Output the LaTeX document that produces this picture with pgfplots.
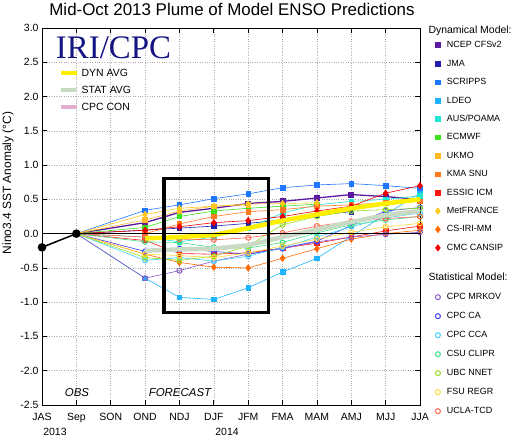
\documentclass[border=0pt]{standalone}
\usepackage{pgfplots}
\pgfplotsset{compat=1.18}
\usepackage{fontspec}
\setmainfont{Liberation Sans}
\newfontfamily\seriffont{Liberation Serif}

\definecolor{cNCEP}{RGB}{90,25,160}
\definecolor{cJMA}{RGB}{30,30,175}
\definecolor{cSCR}{RGB}{30,120,255}
\definecolor{cLDEO}{RGB}{30,180,255}
\definecolor{cAUS}{RGB}{30,230,210}
\definecolor{cECM}{RGB}{60,225,30}
\definecolor{cUKMO}{RGB}{255,185,40}
\definecolor{cKMA}{RGB}{255,120,30}
\definecolor{cESS}{RGB}{255,20,20}
\definecolor{cMET}{RGB}{255,200,30}
\definecolor{cCSIRI}{RGB}{255,105,0}
\definecolor{cCMC}{RGB}{240,0,0}
\definecolor{cMRK}{RGB}{140,90,200}
\definecolor{cCA}{RGB}{60,60,255}
\definecolor{cCCA}{RGB}{60,210,255}
\definecolor{cCSU}{RGB}{60,225,130}
\definecolor{cUBC}{RGB}{150,225,30}
\definecolor{cFSU}{RGB}{255,215,60}
\definecolor{cUCLA}{RGB}{255,100,70}
\definecolor{cDYN}{RGB}{255,240,0}
\definecolor{cSTAT}{RGB}{200,218,195}
\definecolor{cCON}{RGB}{225,175,205}
\definecolor{cIRI}{RGB}{20,20,130}

\pgfplotsset{
  base/.style={width=378bp,height=377bp,scale only axis,at={(42bp,32bp)},anchor=south west,
    xmin=0,xmax=11,ymin=-2.5,ymax=3,clip mode=individual},
  marklegA/.style={legend image code/.code={\path[draw=none,fill=none] (0bp,-9.5bp) rectangle (12bp,9.5bp);\draw[##1,mark repeat=2,mark phase=2,only marks] plot coordinates {(0bp,0bp) (5bp,0bp) (10bp,0bp)};}},
  marklegB/.style={legend image code/.code={\path[draw=none,fill=none] (0bp,-9.5bp) rectangle (12bp,9.5bp);\draw[##1,mark repeat=2,mark phase=2,only marks] plot coordinates {(0bp,0bp) (5bp,0bp) (10bp,0bp)};}},
  sq/.style={color=#1,line width=0.6bp,mark=square*,mark size=2.3bp,mark phase=2,mark options={solid,fill=#1}},
  dm/.style={color=#1,line width=0.6bp,mark=diamond*,mark size=3.2bp,mark phase=2,mark options={solid,fill=#1}},
  ci/.style={color=#1,line width=0.6bp,mark=o,mark size=2.5bp,mark phase=2,mark options={solid,line width=1bp}},
}

\begin{document}
\begin{tikzpicture}[x=1bp,y=1bp]
\useasboundingbox (0,0) rectangle (515,437);

% ---------- main axis: frame, grid, dynamical models ----------
\begin{axis}[base, name=main, marklegA,
  axis line style={line width=0.8bp},
  tick align=inside, xtick pos=both, ytick pos=both,
  major tick length=5bp,
  tick style={black,line width=0.7bp},
  xtick={0,1,2,3,4,5,6,7,8,9,10,11},
  xticklabels={JAS,Sep,SON,OND,NDJ,DJF,JFM,FMA,MAM,AMJ,MJJ,JJA},
  ytick={-2.5,-2,-1.5,-1,-0.5,0,0.5,1,1.5,2,2.5,3},
  /pgf/number format/assume math mode=true,
  yticklabel style={/pgf/number format/fixed,/pgf/number format/fixed zerofill,/pgf/number format/precision=1},
  ticklabel style={font=\fontsize{10.5}{12}\selectfont},
  xticklabel style={yshift=-4.5bp},
  grid=major, major grid style={gray!65,dotted,line width=0.6bp},
  legend cell align=left,
  legend style={at={(1,1)},anchor=north west,xshift=12.7bp,yshift=-7.75bp,draw=none,fill=none,
    inner sep=0pt,row sep=-0.6bp,font=\fontsize{9}{10}\selectfont},
]
\addplot[sq=cNCEP,line width=1.3bp] coordinates {(1,0)(3,0.16)(4,0.31)(5,0.37)(6,0.44)(7,0.47)(8,0.52)(9,0.57)(10,0.54)(11,0.50)};
\addlegendentry{NCEP CFSv2}
\addplot[sq=cJMA] coordinates {(1,0)(3,0.05)(4,0.08)(5,0.11)(6,0.15)(7,0.20)(8,0.27)(9,0.32)};
\addlegendentry{JMA}
\addplot[sq=cSCR] coordinates {(1,0)(3,0.34)(4,0.42)(5,0.51)(6,0.58)(7,0.67)(8,0.71)(9,0.73)(10,0.70)(11,0.66)};
\addlegendentry{SCRIPPS}
\addplot[sq=cLDEO] coordinates {(1,0)(3,-0.65)(4,-0.93)(5,-0.96)(6,-0.79)(7,-0.56)(8,-0.36)(9,-0.04)(10,0.28)(11,0.59)};
\addlegendentry{LDEO}
\addplot[sq=cAUS] coordinates {(1,0)(3,-0.05)(4,-0.12)(5,-0.05)(6,0.08)(7,0.30)(8,0.42)(9,0.47)(10,0.50)(11,0.55)};
\addlegendentry{AUS/POAMA}
\addplot[sq=cECM] coordinates {(1,0)(3,0.09)(4,0.25)(5,0.33)(6,0.37)(7,0.40)(8,0.43)};
\addlegendentry{ECMWF}
\addplot[sq=cUKMO] coordinates {(1,0)(3,0.20)(4,0.33)(5,0.40)(6,0.42)};
\addlegendentry{UKMO}
\addplot[sq=cKMA] coordinates {(1,0)(3,0.0)(4,0.14)(5,0.25)(6,0.32)(7,0.35)(8,0.40)(9,0.42)(10,0.45)(11,0.47)};
\addlegendentry{KMA SNU}
\addplot[sq=cESS] coordinates {(1,0)(3,-0.10)(4,-0.29)(5,-0.30)(6,-0.28)(7,-0.21)(8,-0.14)(9,-0.05)(10,0.04)(11,0.11)};
\addlegendentry{ESSIC ICM}
\addplot[dm=cMET] coordinates {(1,0)(3,0.28)(4,0.37)(5,0.40)(6,0.43)(7,0.44)(8,0.45)};
\addlegendentry{MetFRANCE}
\addplot[dm=cCSIRI] coordinates {(1,0)(3,-0.30)(4,-0.42)(5,-0.49)(6,-0.50)(7,-0.36)(8,-0.22)(9,-0.08)(10,0.0)(11,0.05)};
\addlegendentry{CS-IRI-MM}
\addplot[dm=cCMC] coordinates {(1,0)(3,0.05)(4,0.10)(5,0.16)(6,0.19)(7,0.25)(8,0.33)(9,0.40)(10,0.59)(11,0.70)};
\addlegendentry{CMC CANSIP}
\end{axis}

% ---------- statistical models ----------
\begin{axis}[base, hide axis, marklegB,
  legend cell align=left,
  legend style={at={(1,1)},anchor=north west,xshift=12.7bp,yshift=-259.5bp,draw=none,fill=none,
    inner sep=0pt,row sep=0pt,font=\fontsize{9}{10}\selectfont},
]
\addplot[ci=cMRK] coordinates {(1,0)(3,-0.65)(4,-0.54)(5,-0.40)(6,-0.30)(7,-0.22)(8,-0.12)(9,-0.05)(10,-0.01)(11,0.02)};
\addlegendentry{CPC MRKOV}
\addplot[ci=cCA] coordinates {(1,0)(3,-0.26)(4,-0.22)(5,-0.26)(6,-0.30)(7,-0.21)(8,-0.11)(9,0.12)(10,0.33)(11,0.38)};
\addlegendentry{CPC CA}
\addplot[ci=cCCA] coordinates {(1,0)(3,-0.39)(4,-0.35)(5,-0.40)(6,-0.33)(7,-0.20)(8,-0.05)(9,0.10)(10,0.23)(11,0.30)};
\addlegendentry{CPC CCA}
\addplot[ci=cCSU] coordinates {(1,0)(3,-0.12)(4,-0.13)(5,-0.20)(6,-0.21)(7,-0.13)(8,0.01)(9,0.13)(10,0.20)(11,0.25)};
\addlegendentry{CSU CLIPR}
\addplot[ci=cUBC] coordinates {(1,0)(3,-0.35)(4,-0.39)(5,-0.33)(6,-0.18)(7,0.13)(8,0.25)(9,0.33)(10,0.35)(11,0.37)};
\addlegendentry{UBC NNET}
\addplot[ci=cFSU] coordinates {(1,0)(3,-0.30)(4,-0.32)(5,-0.35)(6,-0.28)(7,-0.18)(8,-0.08)(9,0.02)(10,0.10)(11,0.15)};
\addlegendentry{FSU REGR}
\addplot[ci=cUCLA] coordinates {(1,0)(3,-0.05)(4,-0.08)(5,-0.09)(6,-0.06)(7,0.01)(8,0.11)(9,0.18)(10,0.22)(11,0.25)};
\addlegendentry{UCLA-TCD}
\end{axis}

% ---------- averages, observations, box ----------
\begin{axis}[base, hide axis,
  legend cell align=left,
  legend image code/.code={\path[draw=none,fill=none] (0bp,-8.5bp) rectangle (16bp,8.5bp);\draw[#1] (0bp,0bp) -- (16bp,0bp);},
  legend style={at={(0,1)},anchor=north west,xshift=17bp,yshift=-36.5bp,draw=none,fill=none,
    inner sep=0pt,row sep=0pt,font=\fontsize{10.5}{12}\selectfont},
]
\addplot[color=cDYN,line width=4.5bp] coordinates {(3,-0.07)(4,-0.05)(5,-0.02)(6,0.08)(7,0.19)(8,0.28)(9,0.37)(10,0.44)(11,0.50)};
\addlegendentry{DYN AVG}
\addplot[color=cSTAT,line width=4.5bp] coordinates {(3,-0.25)(4,-0.23)(5,-0.22)(6,-0.17)(7,-0.05)(8,0.06)(9,0.17)(10,0.27)(11,0.33)};
\addlegendentry{STAT AVG}
\addlegendimage{color=cCON,line width=4.5bp}
\addlegendentry{CPC CON}
\addplot[black,line width=1.6bp,forget plot] coordinates {(0,0)(11,0)};
\addplot[black,line width=1.5bp,mark=*,mark size=3.5bp,forget plot] coordinates {(0,-0.2)(1,0.0)};
\draw[black,line width=3.2bp] (axis cs:3.55,0.81) rectangle (axis cs:6.6,-1.15);
\end{axis}

% ---------- texts ----------
\node[font=\fontsize{17}{19}\selectfont] at (232,428) {Mid-Oct 2013 Plume of Model ENSO Predictions};
\node[rotate=90,font=\fontsize{12}{14}\selectfont] at (8,254) {Nino3.4 SST Anomaly (°C)};
\node[font=\seriffont\fontsize{33}{36}\selectfont,text=cIRI] at (113.5,389.5) {IRI/CPC};
\node[font=\fontsize{10.5}{12}\selectfont] at (55,5) {2013};
\node[font=\fontsize{10.5}{12}\selectfont] at (227,5) {2014};
\node[font=\itshape\fontsize{11.5}{13}\selectfont] at (77,44.3) {OBS};
\node[font=\itshape\fontsize{11.5}{13}\selectfont] at (180,44.3) {FORECAST};
\node[anchor=west,font=\fontsize{10.5}{12}\selectfont] at (425,406) {Dynamical Model:};
\node[anchor=west,font=\fontsize{10.5}{12}\selectfont] at (425,160) {Statistical Model:};
\end{tikzpicture}
\end{document}
